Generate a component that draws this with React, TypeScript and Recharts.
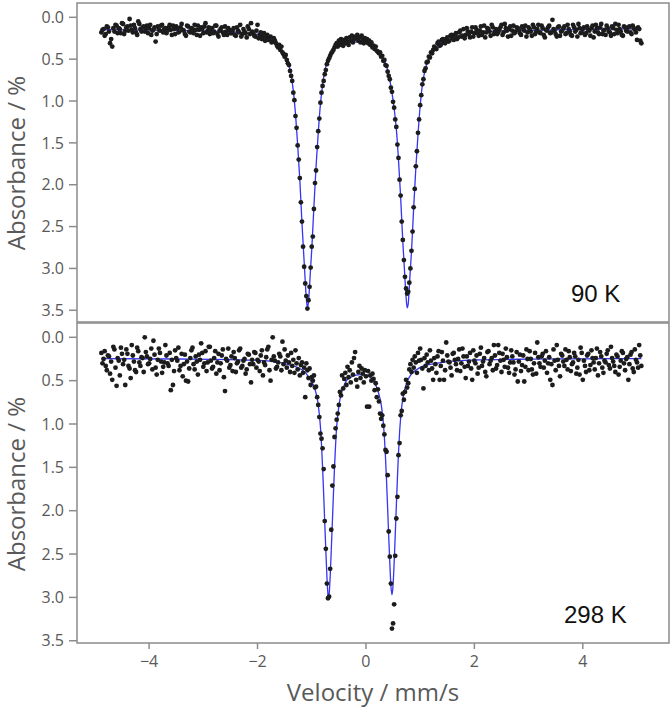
import React from 'react';
import { ComposedChart, Scatter, Line, XAxis, YAxis, ReferenceArea } from 'recharts';

// channel velocities (mm/s), finer spacing through the absorption lines
const velocity = [
  -4.88, -4.84, -4.80, -4.76, -4.72, -4.68, -4.64, -4.60, -4.56, -4.52,
  -4.48, -4.44, -4.40, -4.36, -4.32, -4.28, -4.24, -4.20, -4.16, -4.12,
  -4.08, -4.04, -4.00, -3.96, -3.92, -3.88, -3.84, -3.80, -3.76, -3.72,
  -3.68, -3.64, -3.60, -3.56, -3.52, -3.48, -3.44, -3.40, -3.36, -3.32,
  -3.28, -3.24, -3.20, -3.16, -3.12, -3.08, -3.04, -3.00, -2.96, -2.92,
  -2.88, -2.84, -2.80, -2.76, -2.72, -2.68, -2.64, -2.60, -2.56, -2.52,
  -2.48, -2.44, -2.40, -2.36, -2.32, -2.28, -2.24, -2.20, -2.16, -2.12,
  -2.08, -2.04, -2.00, -1.96, -1.92, -1.88, -1.84, -1.80, -1.76, -1.72,
  -1.68, -1.64, -1.60,
  -1.58, -1.56, -1.54, -1.52, -1.50, -1.48, -1.46, -1.44, -1.42, -1.40,
  -1.38, -1.36, -1.34, -1.32, -1.30, -1.28, -1.26, -1.24, -1.22, -1.20,
  -1.18, -1.16, -1.14, -1.12, -1.10, -1.08, -1.06, -1.04, -1.02, -1.00,
  -0.98, -0.96, -0.94, -0.92, -0.90, -0.88, -0.86, -0.84, -0.82, -0.80,
  -0.78, -0.76, -0.74, -0.72, -0.70, -0.68, -0.66, -0.64, -0.62, -0.60,
  -0.58, -0.56, -0.54, -0.52, -0.50, -0.48, -0.46, -0.44, -0.42, -0.40,
  -0.38, -0.36, -0.34, -0.32, -0.30, -0.28, -0.26, -0.24, -0.22, -0.20,
  -0.18, -0.16, -0.14, -0.12, -0.10, -0.08, -0.06, -0.04, -0.02, 0.00,
  0.02, 0.04, 0.06, 0.08, 0.10, 0.12, 0.14, 0.16, 0.18, 0.20,
  0.22, 0.24, 0.26, 0.28, 0.30, 0.32, 0.34, 0.36, 0.38, 0.40,
  0.42, 0.44, 0.46, 0.48, 0.50, 0.52, 0.54, 0.56, 0.58, 0.60,
  0.62, 0.64, 0.66, 0.68, 0.70, 0.72, 0.74, 0.76, 0.78, 0.80,
  0.82, 0.84, 0.86, 0.88, 0.90, 0.92, 0.94, 0.96, 0.98, 1.00,
  1.02, 1.04, 1.06, 1.08, 1.10, 1.12, 1.14, 1.16, 1.18, 1.20,
  1.24, 1.28, 1.32, 1.36, 1.40, 1.44, 1.48, 1.52, 1.56, 1.60,
  1.64, 1.68, 1.72, 1.76, 1.80, 1.84, 1.88, 1.92, 1.96, 2.00,
  2.04, 2.08, 2.12, 2.16, 2.20, 2.24, 2.28, 2.32, 2.36, 2.40,
  2.44, 2.48, 2.52, 2.56, 2.60, 2.64, 2.68, 2.72, 2.76, 2.80,
  2.84, 2.88, 2.92, 2.96, 3.00, 3.04, 3.08, 3.12, 3.16, 3.20,
  3.24, 3.28, 3.32, 3.36, 3.40, 3.44, 3.48, 3.52, 3.56, 3.60,
  3.64, 3.68, 3.72, 3.76, 3.80, 3.84, 3.88, 3.92, 3.96, 4.00,
  4.04, 4.08, 4.12, 4.16, 4.20, 4.24, 4.28, 4.32, 4.36, 4.40,
  4.44, 4.48, 4.52, 4.56, 4.60, 4.64, 4.68, 4.72, 4.76, 4.80,
  4.84, 4.88, 4.92, 4.96, 5.00, 5.04, 5.08,
];

// the in-between channels of the flat wings
const velocityWings = [
  -4.86, -4.82, -4.78, -4.74, -4.70, -4.66, -4.62, -4.58, -4.54, -4.50,
  -4.46, -4.42, -4.38, -4.34, -4.30, -4.26, -4.22, -4.18, -4.14, -4.10,
  -4.06, -4.02, -3.98, -3.94, -3.90, -3.86, -3.82, -3.78, -3.74, -3.70,
  -3.66, -3.62, -3.58, -3.54, -3.50, -3.46, -3.42, -3.38, -3.34, -3.30,
  -3.26, -3.22, -3.18, -3.14, -3.10, -3.06, -3.02, -2.98, -2.94, -2.90,
  -2.86, -2.82, -2.78, -2.74, -2.70, -2.66, -2.62, -2.58, -2.54, -2.50,
  -2.46, -2.42, -2.38, -2.34, -2.30, -2.26, -2.22, -2.18, -2.14, -2.10,
  -2.06, -2.02, -1.98, -1.94, -1.90, -1.86, -1.82, -1.78, -1.74, -1.70,
  -1.66, -1.62,
  1.22, 1.26, 1.30, 1.34, 1.38, 1.42, 1.46, 1.50, 1.54, 1.58,
  1.62, 1.66, 1.70, 1.74, 1.78, 1.82, 1.86, 1.90, 1.94, 1.98,
  2.02, 2.06, 2.10, 2.14, 2.18, 2.22, 2.26, 2.30, 2.34, 2.38,
  2.42, 2.46, 2.50, 2.54, 2.58, 2.62, 2.66, 2.70, 2.74, 2.78,
  2.82, 2.86, 2.90, 2.94, 2.98, 3.02, 3.06, 3.10, 3.14, 3.18,
  3.22, 3.26, 3.30, 3.34, 3.38, 3.42, 3.46, 3.50, 3.54, 3.58,
  3.62, 3.66, 3.70, 3.74, 3.78, 3.82, 3.86, 3.90, 3.94, 3.98,
  4.02, 4.06, 4.10, 4.14, 4.18, 4.22, 4.26, 4.30, 4.34, 4.38,
  4.42, 4.46, 4.50, 4.54, 4.58, 4.62, 4.66, 4.70, 4.74, 4.78,
  4.82, 4.86, 4.90, 4.94, 4.98, 5.02, 5.06,
];

// measured absorbance (%) at 90 K
const absorbance90K = [
  0.18, 0.14, 0.20, 0.12, 0.31, 0.35, 0.17, 0.10, 0.13, 0.19,
  0.08, 0.16, 0.11, 0.02, 0.15, 0.09, 0.18, 0.05, 0.14, 0.12,
  0.17, 0.10, 0.13, 0.21, 0.15, 0.29, 0.11, 0.16, 0.09, 0.14,
  0.19, 0.12, 0.15, 0.10, 0.20, 0.13, 0.17, 0.08, 0.16, 0.22,
  0.11, 0.18, 0.14, 0.09, 0.21, 0.15, 0.12, 0.19, 0.07, 0.16,
  0.20, 0.13, 0.17, 0.10, 0.23, 0.14, 0.18, 0.11, 0.21, 0.15,
  0.19, 0.13, 0.22, 0.16, 0.09, 0.20, 0.17, 0.24, 0.14, 0.07,
  0.19, 0.23, 0.09, 0.21, 0.26, 0.19, 0.24, 0.27, 0.23, 0.29,
  0.28, 0.34, 0.33,
  0.39, 0.35, 0.42, 0.44, 0.47, 0.45, 0.51, 0.55, 0.57, 0.64,
  0.70, 0.76, 0.90, 0.99, 1.18, 1.32, 1.53, 1.70, 1.92, 2.21,
  2.44, 2.74, 2.98, 3.18, 3.33, 3.48, 3.38, 3.22, 2.99, 2.74,
  2.62, 2.29, 1.98, 1.83, 1.55, 1.36, 1.21, 1.02, 0.90, 0.82,
  0.76, 0.68, 0.63, 0.56, 0.52, 0.49, 0.46, 0.43, 0.41, 0.39,
  0.36, 0.33, 0.31, 0.35, 0.28, 0.33, 0.26, 0.30, 0.34, 0.27,
  0.31, 0.25, 0.29, 0.33, 0.24, 0.28, 0.22, 0.30, 0.26, 0.23,
  0.25, 0.21, 0.28, 0.24, 0.30, 0.22, 0.27, 0.31, 0.25, 0.29,
  0.26, 0.31, 0.28, 0.33, 0.30, 0.36, 0.34, 0.38, 0.35, 0.40,
  0.41, 0.43, 0.42, 0.47, 0.46, 0.52, 0.51, 0.57, 0.58, 0.65,
  0.70, 0.74, 0.84, 0.89, 1.01, 1.08, 1.22, 1.31, 1.52, 1.68,
  1.94, 2.13, 2.44, 2.66, 2.90, 3.10, 3.24, 3.30, 3.28, 3.17,
  3.00, 2.79, 2.56, 2.27, 2.05, 1.78, 1.60, 1.38, 1.22, 1.05,
  0.93, 0.80, 0.74, 0.64, 0.61, 0.54, 0.53, 0.47, 0.48, 0.42,
  0.39, 0.37, 0.31, 0.34, 0.27, 0.30, 0.26, 0.29, 0.22, 0.25,
  0.21, 0.26, 0.18, 0.23, 0.14, 0.21, 0.17, 0.24, 0.12, 0.19,
  0.15, 0.22, 0.11, 0.18, 0.24, 0.13, 0.17, 0.09, 0.20, 0.14,
  0.18, 0.12, 0.21, 0.08, 0.16, 0.14, 0.22, 0.10, 0.17, 0.13,
  0.19, 0.11, 0.16, 0.23, 0.12, 0.17, 0.09, 0.20, 0.14, 0.18,
  0.10, 0.21, 0.15, 0.12, 0.19, 0.03, 0.16, 0.23, 0.11, 0.17,
  0.13, 0.20, 0.09, 0.17, 0.22, 0.12, 0.15, 0.08, 0.19, 0.14,
  0.21, 0.11, 0.16, 0.13, 0.24, 0.09, 0.18, 0.12, 0.20, 0.15,
  0.10, 0.17, 0.22, 0.13, 0.08, 0.19, 0.14, 0.21, 0.11, 0.16,
  0.12, 0.18, 0.10, 0.15, 0.27, 0.14, 0.31,
];
const absorbance90KWings = [
  0.15, 0.22, 0.11, 0.17, 0.26, 0.13, 0.09, 0.19, 0.14, 0.07,
  0.20, 0.12, 0.16, 0.10, 0.18, 0.13, 0.21, 0.08, 0.17, 0.11,
  0.14, 0.19, 0.09, 0.16, 0.12, 0.20, 0.15, 0.10, 0.18, 0.13,
  0.16, 0.09, 0.21, 0.14, 0.11, 0.18, 0.12, 0.15, 0.20, 0.10,
  0.17, 0.13, 0.19, 0.15, 0.10, 0.22, 0.14, 0.11, 0.18, 0.12,
  0.15, 0.19, 0.10, 0.20, 0.16, 0.12, 0.21, 0.17, 0.13, 0.19,
  0.16, 0.21, 0.12, 0.18, 0.23, 0.14, 0.19, 0.11, 0.20, 0.17,
  0.22, 0.16, 0.25, 0.18, 0.23, 0.28, 0.21, 0.26, 0.30, 0.25,
  0.31, 0.36,
  0.43, 0.35, 0.38, 0.29, 0.33, 0.26, 0.31, 0.24, 0.28, 0.21,
  0.27, 0.19, 0.24, 0.16, 0.22, 0.25, 0.13, 0.20, 0.17, 0.23,
  0.12, 0.19, 0.16, 0.21, 0.10, 0.18, 0.14, 0.22, 0.12, 0.17,
  0.20, 0.15, 0.09, 0.18, 0.13, 0.23, 0.11, 0.16, 0.19, 0.12,
  0.15, 0.21, 0.13, 0.10, 0.18, 0.14, 0.22, 0.12, 0.17, 0.09,
  0.19, 0.13, 0.24, 0.16, 0.10, 0.18, 0.14, 0.20, 0.12, 0.22,
  0.16, 0.11, 0.19, 0.14, 0.21, 0.09, 0.17, 0.23, 0.13, 0.18,
  0.12, 0.19, 0.15, 0.22, 0.10, 0.17, 0.13, 0.20, 0.08, 0.16,
  0.21, 0.13, 0.18, 0.11, 0.20, 0.15, 0.09, 0.17, 0.22, 0.12,
  0.17, 0.11, 0.20, 0.13, 0.18, 0.12, 0.28,
];

// measured absorbance (%) at 298 K
const absorbance298K = [
  0.18, 0.25, 0.33, 0.21, 0.42, 0.49, 0.14, 0.56, 0.27, 0.12,
  0.31, 0.55, 0.19, 0.36, 0.09, 0.28, 0.40, 0.16, 0.33, 0.24,
  0.00, 0.22, 0.30, 0.13, 0.04, 0.35, 0.26, 0.18, 0.41, 0.29,
  0.21, 0.33, 0.61, 0.55, 0.15, 0.27, 0.38, 0.19, 0.31, 0.50,
  0.51, 0.24, 0.12, 0.37, 0.28, 0.20, 0.07, 0.34, 0.16, 0.29,
  0.11, 0.36, 0.24, 0.42, 0.19, 0.30, 0.14, 0.62, 0.27, 0.35,
  0.22, 0.17, 0.40, 0.28, 0.13, 0.33, 0.25, 0.37, 0.20, 0.52,
  0.31, 0.18, 0.26, 0.39, 0.15, 0.29, 0.23, 0.11, 0.50, 0.00,
  0.27, 0.34, 0.19,
  0.22, 0.38, 0.05, 0.31, 0.14, 0.27, 0.35, 0.21, 0.29, 0.40,
  0.18, 0.33, 0.26, 0.41, 0.15, 0.30, 0.37, 0.24, 0.44, 0.32,
  0.29, 0.41, 0.35, 0.69, 0.30, 0.38, 0.47, 0.36, 0.55, 0.46,
  0.50, 0.44, 0.58, 0.57, 0.69, 0.78, 0.92, 1.11, 1.17, 1.28,
  1.52, 2.12, 2.44, 2.84, 3.01, 2.99, 2.67, 2.22, 1.71, 1.49,
  1.15, 1.05, 0.95, 0.88, 0.78, 0.63, 0.67, 0.44, 0.59, 0.48,
  0.41, 0.55, 0.34, 0.46, 0.38, 0.52, 0.29, 0.43, 0.24, 0.17,
  0.49, 0.57, 0.40, 0.33, 0.47, 0.36, 0.42, 0.52, 0.38, 0.45,
  0.80, 0.39, 0.80, 0.44, 0.50, 0.42, 0.48, 0.61, 0.53, 0.69,
  0.60, 0.74, 0.88, 0.94, 0.90, 1.02, 1.12, 1.30, 1.32, 1.59,
  2.24, 2.53, 2.84, 3.36, 3.30, 3.08, 2.52, 2.09, 1.84, 1.36,
  1.22, 0.90, 0.85, 0.65, 0.72, 0.63, 0.49, 0.58, 0.53, 0.37,
  0.31, 0.40, 0.26, 0.35, 0.22, 0.29, 0.41, 0.18, 0.27, 0.13,
  0.26, 0.36, 0.59, 0.24, 0.33, 0.20, 0.29, 0.38, 0.15, 0.27,
  0.49, 0.31, 0.22, 0.49, 0.17, 0.49, 0.06, 0.28, 0.35, 0.19,
  0.26, 0.38, 0.14, 0.30, 0.22, 0.47, 0.33, 0.18, 0.49, 0.27,
  0.21, 0.35, 0.12, 0.28, 0.40, 0.17, 0.31, 0.24, 0.09, 0.36,
  0.09, 0.27, 0.19, 0.34, 0.23, 0.41, 0.15, 0.29, 0.37, 0.51,
  0.20, 0.32, 0.51, 0.14, 0.38, 0.25, 0.43, 0.18, 0.06, 0.30,
  0.22, 0.35, 0.16, 0.30, 0.49, 0.55, 0.27, 0.09, 0.33, 0.19,
  0.28, 0.14, 0.37, 0.23, 0.31, 0.18, 0.42, 0.26, 0.12, 0.49,
  0.33, 0.21, 0.38, 0.15, 0.29, 0.24, 0.44, 0.17, 0.35, 0.27,
  0.19, 0.32, 0.11, 0.28, 0.40, 0.22, 0.34, 0.16, 0.30, 0.25,
  0.49, 0.20, 0.36, 0.14, 0.29, 0.09, 0.33,
];
const absorbance298KWings = [
  0.30, 0.16, 0.38, 0.22, 0.28, 0.11, 0.35, 0.24, 0.44, 0.19,
  0.26, 0.14, 0.33, 0.47, 0.21, 0.38, 0.12, 0.29, 0.23, 0.40,
  0.17, 0.31, 0.25, 0.37, 0.20, 0.43, 0.13, 0.28, 0.34, 0.09,
  0.30, 0.18, 0.26, 0.39, 0.24, 0.12, 0.33, 0.45, 0.20, 0.28,
  0.36, 0.15, 0.31, 0.22, 0.43, 0.26, 0.18, 0.30, 0.39, 0.11,
  0.27, 0.34, 0.16, 0.29, 0.38, 0.21, 0.46, 0.25, 0.13, 0.32,
  0.39, 0.24, 0.30, 0.15, 0.35, 0.27, 0.42, 0.19, 0.31, 0.26,
  0.17, 0.35, 0.28, 0.21, 0.44, 0.32, 0.14, 0.38, 0.26, 0.22,
  0.36, 0.29,
  0.36, 0.24, 0.41, 0.16, 0.33, 0.27, 0.38, 0.21, 0.29, 0.44,
  0.18, 0.31, 0.25, 0.39, 0.13, 0.34, 0.22, 0.28, 0.36, 0.15,
  0.30, 0.42, 0.19, 0.33, 0.24, 0.45, 0.16, 0.27, 0.38, 0.21,
  0.32, 0.18, 0.40, 0.26, 0.13, 0.35, 0.29, 0.22, 0.43, 0.17,
  0.28, 0.39, 0.21, 0.34, 0.25, 0.16, 0.37, 0.30, 0.42, 0.23,
  0.34, 0.19, 0.27, 0.41, 0.23, 0.31, 0.14, 0.38, 0.26, 0.45,
  0.21, 0.33, 0.26, 0.16, 0.39, 0.29, 0.22, 0.35, 0.43, 0.18,
  0.27, 0.40, 0.19, 0.32, 0.24, 0.37, 0.13, 0.30, 0.22, 0.41,
  0.29, 0.15, 0.36, 0.24, 0.33, 0.20, 0.43, 0.27, 0.18, 0.38,
  0.23, 0.31, 0.17, 0.40, 0.26, 0.35, 0.21,
];

// fitted doublet, 90 K
const fitVelocity90K = [
  -4.88, -4.0, -3.0, -2.5, -2.2, -2.0, -1.84, -1.72, -1.64, -1.58,
  -1.54, -1.50, -1.46, -1.42, -1.38, -1.34, -1.30, -1.26, -1.22, -1.18,
  -1.14, -1.12, -1.10, -1.08, -1.06, -1.04, -1.02, -1.00, -0.96, -0.92,
  -0.88, -0.84, -0.80, -0.76, -0.72, -0.68, -0.64, -0.60, -0.54, -0.46,
  -0.36, -0.24, -0.12, 0.0, 0.12, 0.22, 0.30, 0.36, 0.40, 0.44,
  0.48, 0.52, 0.56, 0.60, 0.64, 0.68, 0.70, 0.72, 0.74, 0.76,
  0.78, 0.80, 0.82, 0.84, 0.88, 0.92, 0.96, 1.00, 1.04, 1.08,
  1.12, 1.18, 1.24, 1.32, 1.40, 1.52, 1.64, 1.80, 2.0, 2.5,
  3.0, 3.75, 4.4, 5.08,
];
const fitAbsorbance90K = [
  0.147, 0.152, 0.163, 0.174, 0.188, 0.205, 0.235, 0.28, 0.33, 0.37,
  0.40, 0.44, 0.495, 0.575, 0.69, 0.875, 1.15, 1.52, 1.94, 2.46,
  2.92, 3.15, 3.36, 3.47, 3.40, 3.21, 2.98, 2.78, 2.26, 1.78,
  1.38, 1.04, 0.81, 0.64, 0.55, 0.49, 0.43, 0.39, 0.345, 0.315,
  0.30, 0.293, 0.295, 0.308, 0.34, 0.40, 0.47, 0.55, 0.63, 0.75,
  0.90, 1.09, 1.33, 1.70, 2.15, 2.68, 2.90, 3.13, 3.34, 3.47,
  3.42, 3.22, 3.00, 2.80, 2.28, 1.80, 1.40, 1.06, 0.81, 0.66,
  0.56, 0.46, 0.40, 0.34, 0.30, 0.27, 0.245, 0.21, 0.185, 0.163,
  0.155, 0.147, 0.142, 0.137,
];

// fitted doublet, 298 K
const fitVelocity298K = [
  -4.88, -3.5, -2.5, -2.0, -1.6, -1.4, -1.22, -1.10, -1.02, -0.96,
  -0.92, -0.90, -0.88, -0.86, -0.84, -0.82, -0.80, -0.78, -0.76, -0.74,
  -0.72, -0.70, -0.69, -0.68, -0.66, -0.64, -0.62, -0.60, -0.58, -0.56,
  -0.54, -0.52, -0.50, -0.48, -0.46, -0.44, -0.40, -0.36, -0.30, -0.20,
  -0.10, -0.02, 0.06, 0.12, 0.16, 0.20, 0.24, 0.28, 0.30, 0.32,
  0.34, 0.36, 0.38, 0.40, 0.42, 0.44, 0.46, 0.48, 0.50, 0.52,
  0.54, 0.56, 0.58, 0.60, 0.62, 0.64, 0.66, 0.68, 0.70, 0.72,
  0.76, 0.82, 0.92, 1.06, 1.20, 1.50, 2.0, 3.0, 4.0, 5.08,
];
const fitAbsorbance298K = [
  0.245, 0.25, 0.258, 0.265, 0.29, 0.32, 0.36, 0.42, 0.50, 0.56,
  0.645, 0.70, 0.78, 0.89, 1.03, 1.24, 1.50, 1.81, 2.14, 2.46,
  2.76, 2.97, 3.00, 2.97, 2.76, 2.46, 2.14, 1.81, 1.50, 1.24,
  1.03, 0.90, 0.80, 0.72, 0.66, 0.62, 0.55, 0.50, 0.47, 0.44,
  0.43, 0.43, 0.45, 0.49, 0.53, 0.58, 0.66, 0.77, 0.86, 0.98,
  1.15, 1.38, 1.66, 1.97, 2.30, 2.60, 2.86, 2.97, 2.86, 2.60,
  2.28, 1.95, 1.63, 1.34, 1.10, 0.93, 0.80, 0.71, 0.64, 0.59,
  0.51, 0.44, 0.38, 0.33, 0.31, 0.28, 0.262, 0.252, 0.248, 0.246,
];

const yTicks = [0, 0.5, 1, 1.5, 2, 2.5, 3, 3.5];
const xTicks = [-4, -2, 0, 2, 4];

const X_DOMAIN: [number, number] = [-5.33, 5.59];
const FRAME = '#8c8c8c';
const TEXT = '#595959';
const FONT = '"Open Sans", "Noto Sans", sans-serif';

const toPoints = (xs: number[], ys: number[]) => xs.map((v, i) => ({ v, a: ys[i] }));

const Dot = (props: any) => <circle cx={props.cx} cy={props.cy} r={2.4} fill="#1c1c1c" />;

const fmtX = (t: number) => (t < 0 ? `\u2212${-t}` : `${t}`);

interface PanelProps {
  points: { v: number; a: number }[];
  fit: { v: number; a: number }[];
  yDomain: [number, number];
  height: number;
  showX: boolean;
  margin: { top: number; right: number; bottom: number; left: number };
}

const Panel: React.FC<PanelProps> = ({ points, fit, yDomain, height, showX, margin }) => (
  <ComposedChart width={672} height={height} margin={margin}>
    <XAxis
      type="number"
      dataKey="v"
      domain={X_DOMAIN}
      allowDataOverflow
      hide={!showX}
      ticks={xTicks}
      tickFormatter={fmtX}
      axisLine={false}
      tickSize={6}
      tickMargin={7}
      height={30}
      tickLine={{ stroke: FRAME, strokeWidth: 1.5 }}
      tick={{ fill: TEXT, fontSize: 16, fontFamily: FONT }}
    />
    <YAxis
      type="number"
      domain={yDomain}
      reversed
      allowDataOverflow
      ticks={yTicks}
      tickFormatter={(t: number) => t.toFixed(1)}
      width={60}
      axisLine={false}
      tickSize={8}
      tickMargin={5}
      tickLine={{ stroke: FRAME, strokeWidth: 1.5 }}
      tick={{ fill: TEXT, fontSize: 16, fontFamily: FONT }}
    />
    <ReferenceArea
      x1={X_DOMAIN[0]}
      x2={X_DOMAIN[1]}
      y1={yDomain[0]}
      y2={yDomain[1]}
      fill="none"
      stroke={FRAME}
      strokeWidth={1.5}
    />
    <Scatter data={points} dataKey="a" shape={Dot} isAnimationActive={false} />
    <Line
      data={fit}
      dataKey="a"
      type="monotone"
      stroke="#3535f2"
      strokeWidth={1.3}
      dot={false}
      activeDot={false}
      isAnimationActive={false}
    />
  </ComposedChart>
);

export default function App() {
  const top = [...toPoints(velocity, absorbance90K), ...toPoints(velocityWings, absorbance90KWings)];
  const bottom = [...toPoints(velocity, absorbance298K), ...toPoints(velocityWings, absorbance298KWings)];
  const fitTop = toPoints(fitVelocity90K, fitAbsorbance90K);
  const fitBottom = toPoints(fitVelocity298K, fitAbsorbance298K);

  return (
    <div style={{ position: 'absolute', left: 0, top: 0, width: 672, height: 712, background: '#fff' }}>
      <div style={{ position: 'absolute', left: 0, top: 0 }}>
        <Panel
          points={top}
          fit={fitTop}
          yDomain={[-0.171, 3.64]}
          height={325}
          showX={false}
          margin={{ top: 3, right: 3, bottom: 3, left: 17 }}
        />
      </div>
      <div style={{ position: 'absolute', left: 0, top: 320 }}>
        <Panel
          points={bottom}
          fit={fitBottom}
          yDomain={[-0.165, 3.526]}
          height={392}
          showX
          margin={{ top: 3, right: 3, bottom: 39, left: 17 }}
        />
      </div>
      <svg width={672} height={712} style={{ position: 'absolute', left: 0, top: 0, pointerEvents: 'none' }}>
        <text x={25} y={163} transform="rotate(-90 25 163)" textAnchor="middle" fontFamily={FONT} fontSize={24} fill={TEXT}>
          Absorbance / %
        </text>
        <text x={25} y={484} transform="rotate(-90 25 484)" textAnchor="middle" fontFamily={FONT} fontSize={24} fill={TEXT}>
          Absorbance / %
        </text>
        <text x={373} y={701} textAnchor="middle" fontFamily={FONT} fontSize={24} fill={TEXT}>
          Velocity / mm/s
        </text>
        <text x={571} y={302} fontFamily='"Liberation Sans", Arial, sans-serif' fontSize={24} fill="#111">
          90 K
        </text>
        <text x={564} y={623} fontFamily='"Liberation Sans", Arial, sans-serif' fontSize={24} fill="#111">
          298 K
        </text>
      </svg>
    </div>
  );
}
